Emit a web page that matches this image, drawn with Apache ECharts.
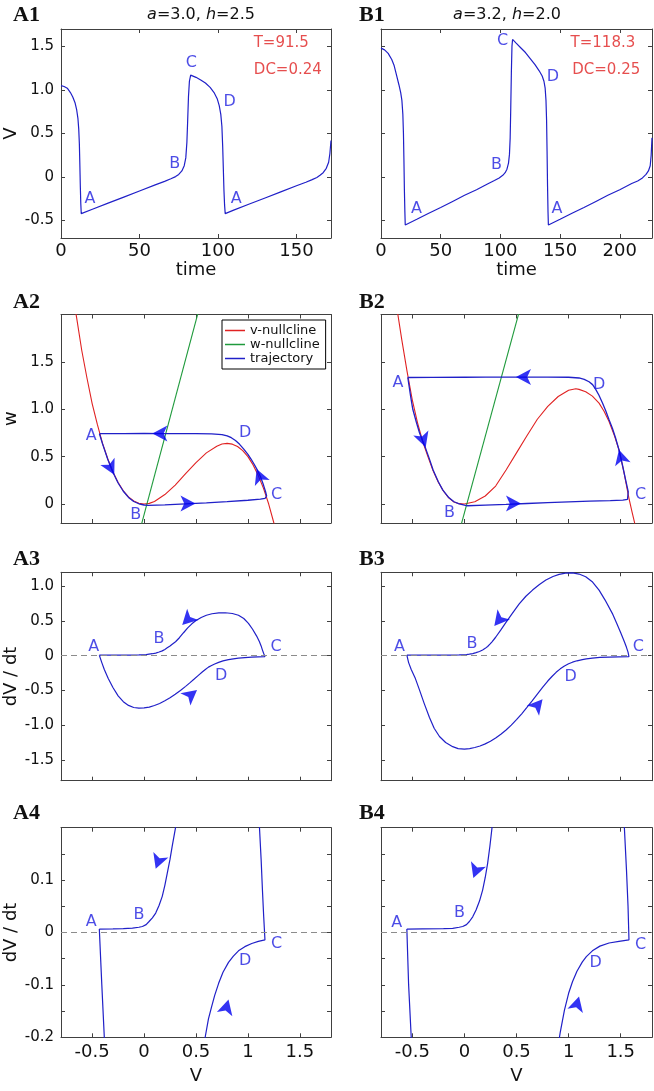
<!DOCTYPE html>
<html><head><meta charset="utf-8">
<script src="https://cdn.jsdelivr.net/npm/echarts@6/dist/echarts.min.js"></script>
<style>html,body{margin:0;padding:0;background:#fff}#c{width:654px;height:1091px}</style>
</head><body><div id="c"></div><script>
// ---------------- tick values ----------------
const timeTicksA = [0, 50, 100, 150];
const timeTicksB = [0, 50, 100, 150, 200];
const vTicks = [-0.5, 0, 0.5, 1, 1.5];
const wTicks = [0, 0.5, 1, 1.5];
const dvTicks3 = [-1.5, -1, -0.5, 0, 0.5, 1];
const dvTicks4 = [-0.15, -0.1, -0.05, 0, 0.05, 0.1, 0.15];
const dvLabels4 = [-0.2, -0.1, 0, 0.1];

// ---------------- A1 / B1 : V(t) ----------------
const a1Trace = [[0,1.05],[2,1.04],[4,1.02],[6,0.97],[7.5,0.92],[9,0.85],[10,0.77],[10.8,0.67],[11.3,0.55],[11.7,0.38],[12.0,0.15],[12.3,-0.1],[12.6,-0.3],[12.9,-0.42],
 [20,-0.37],[30,-0.30],[40,-0.23],[50,-0.16],[60,-0.09],[66,-0.05],[70,-0.02],[73,0.005],[75,0.03],[77,0.07],[78.5,0.13],[79.5,0.22],[80.2,0.40],[80.7,0.65],[81.2,0.92],[81.8,1.10],[82.6,1.17],
 [86,1.145],[89,1.115],[92,1.08],[95,1.03],[97.5,0.97],[99.5,0.90],[100.8,0.82],[101.8,0.72],[102.5,0.58],[103,0.35],[103.4,0.1],[103.8,-0.15],[104.2,-0.32],[104.6,-0.42],
 [110,-0.38],[120,-0.31],[130,-0.24],[140,-0.17],[150,-0.10],[156,-0.06],[160,-0.03],[163,-0.005],[165,0.02],[167,0.05],[169,0.10],[170.5,0.17],[171.3,0.27],[172,0.42]];
const b1Trace = [[0,1.48],[3,1.46],[6,1.42],[9,1.35],[11,1.28],[13,1.17],[15,1.06],[16.5,0.97],[17.5,0.88],[18.3,0.72],[18.8,0.5],[19.2,0.2],[19.6,-0.15],[20.0,-0.4],[20.3,-0.55],
 [30,-0.485],[40,-0.415],[50,-0.35],[60,-0.28],[70,-0.21],[80,-0.145],[90,-0.075],[95,-0.04],[99,-0.01],[102,0.02],[104,0.05],[105.5,0.09],[106.8,0.16],[107.6,0.26],[108.2,0.45],[108.7,0.8],[109.2,1.2],[109.7,1.5],[110.2,1.58],
 [113,1.54],[117,1.485],[121,1.43],[125,1.36],[129,1.29],[132.5,1.22],[135,1.16],[136.5,1.10],[137.5,1.02],[138.2,0.88],[138.7,0.65],[139.1,0.3],[139.5,-0.1],[139.9,-0.4],[140.2,-0.55],
 [150,-0.485],[160,-0.415],[170,-0.35],[180,-0.28],[190,-0.21],[200,-0.145],[210,-0.075],[215,-0.045],[219,-0.01],[222,0.03],[224,0.07],[225.5,0.13],[226.3,0.25],[227,0.45]];
const a1Labels = [[18.4,-0.245,'A'],[72.5,0.157,'B'],[83.1,1.307,'C'],[107.4,0.866,'D'],[111.7,-0.245,'A']];
const b1Labels = [[29.8,-0.36,'A'],[96.7,0.138,'B'],[101.8,1.567,'C'],[144.1,1.146,'D'],[147.4,-0.36,'A']];
const a1Notes = [[140.3,1.537,'T=91.5'],[144.5,1.23,'DC=0.24']];
const b1Notes = [[185.9,1.537,'T=118.3'],[188.7,1.23,'DC=0.25']];

// ---------------- A2 / B2 : phase plane ----------------
const a2VNull = [[-0.67,2.1],[-0.65,1.97],[-0.6,1.62],[-0.55,1.33],[-0.5,1.06],[-0.45,0.84],[-0.4,0.64],[-0.35,0.478],[-0.3,0.338],[-0.25,0.227],[-0.2,0.14],[-0.15,0.076],[-0.1,0.0325],[-0.05,0.008],[0,0],[0.05,0.007],[0.1,0.0275],[0.2,0.1],[0.3,0.2],[0.4,0.32],[0.5,0.4375],[0.6,0.54],[0.7,0.61],[0.75,0.633],[0.8,0.64],[0.85,0.632],[0.9,0.607],[0.95,0.564],[1.0,0.5],[1.05,0.413],[1.1,0.3],[1.15,0.165],[1.2,0.0],[1.25,-0.2],[1.27,-0.3]];
const a2WNull = [[-0.03,-0.235],[0.53,2.06]];
const a2Traj = [[-0.43,0.742],[-0.4,0.635],[-0.35,0.472],[-0.3,0.335],[-0.25,0.222],[-0.2,0.135],[-0.15,0.07],[-0.1,0.027],[-0.05,0.003],[0.0,-0.01],[0.04,-0.014],[0.2,-0.008],[0.4,0.002],[0.6,0.013],[0.8,0.025],[1.0,0.04],[1.12,0.052],[1.165,0.06],[1.18,0.085],
 [1.17,0.13],[1.15,0.2],[1.12,0.29],[1.09,0.36],[1.06,0.42],[1.03,0.475],[1.0,0.525],[0.96,0.58],[0.92,0.63],[0.88,0.67],[0.84,0.7],[0.8,0.72],[0.75,0.733],[0.65,0.741],[0.5,0.743],[0.2,0.744],[0.0,0.745],[-0.2,0.744],[-0.43,0.742]];
const a2Arrows = [[-0.287,0.31,207],[0.495,0.007,270],[1.084,0.37,22],[0.08,0.745,90]];
const a2Labels = [[-0.51,0.722,'A'],[-0.08,-0.117,'B'],[1.276,0.096,'C'],[0.973,0.75,'D']];

const b2VNull = [[-0.66,2.17],[-0.641,2.02],[-0.6,1.73],[-0.55,1.40],[-0.5,1.10],[-0.45,0.86],[-0.4,0.66],[-0.35,0.50],[-0.3,0.35],[-0.25,0.23],[-0.2,0.135],[-0.15,0.065],[-0.1,0.022],[-0.05,0.004],[0,0],[0.1,0.025],[0.2,0.085],[0.3,0.19],[0.4,0.36],[0.5,0.54],[0.6,0.72],[0.7,0.895],[0.8,1.03],[0.9,1.135],[1.0,1.2],[1.069,1.217],[1.1,1.21],[1.164,1.185],[1.228,1.139],[1.292,1.065],[1.34,0.98],[1.388,0.87],[1.44,0.72],[1.483,0.573],[1.53,0.34],[1.579,0.06],[1.61,-0.09],[1.64,-0.23]];
const b2WNull = [[-0.03,-0.215],[0.53,2.045]];
const b2Traj = [[-0.543,1.335],[-0.53,1.24],[-0.515,1.13],[-0.495,1.0],[-0.46,0.86],[-0.43,0.75],[-0.4,0.665],[-0.371,0.585],[-0.34,0.49],[-0.3,0.36],[-0.25,0.235],[-0.208,0.15],[-0.15,0.068],[-0.1,0.024],[-0.05,0.002],[0.0,-0.012],[0.03,-0.018],[0.2,-0.011],[0.4,-0.003],[0.6,0.006],[0.8,0.014],[1.0,0.022],[1.2,0.03],[1.4,0.037],[1.52,0.042],[1.565,0.05],[1.579,0.07],
 [1.572,0.13],[1.547,0.255],[1.515,0.42],[1.483,0.573],[1.45,0.7],[1.42,0.8],[1.388,0.89],[1.356,0.985],[1.324,1.069],[1.29,1.15],[1.26,1.21],[1.23,1.26],[1.196,1.29],[1.15,1.315],[1.1,1.33],[1.0,1.338],[0.8,1.34],[0.5,1.34],[0.2,1.339],[0.0,1.338],[-0.3,1.336],[-0.543,1.335]];
const b2Arrows = [[-0.371,0.6,199],[0.543,0.007,270],[1.483,0.573,15],[0.495,1.34,90]];
const b2Labels = [[-0.638,1.281,'A'],[-0.144,-0.088,'B'],[1.691,0.096,'C'],[1.292,1.253,'D']];

// ---------------- A3/A4, B3/B4 : dV/dt vs V ----------------
const a3Cycle = [[-0.431,0.0065],[-0.3,0.007],[-0.2,0.0075],[-0.112,0.0085],[-0.05,0.01],[-0.016,0.0115],[0.02,0.015],[0.048,0.021],[0.08,0.028],[0.112,0.037],[0.145,0.052],[0.175,0.069],[0.2,0.09],[0.223,0.113],[0.25,0.14],[0.271,0.165],[0.303,0.2],[0.34,0.258],[0.38,0.33],[0.42,0.4],[0.46,0.458],[0.5,0.505],[0.55,0.55],[0.6,0.582],[0.654,0.603],[0.72,0.616],[0.782,0.618],[0.85,0.607],[0.909,0.582],[0.96,0.535],[1.005,0.465],[1.045,0.38],[1.084,0.282],[1.11,0.205],[1.127,0.14],[1.14,0.08],[1.152,0.03],[1.164,-0.014],
 [1.1,-0.017],[1.037,-0.021],[0.97,-0.027],[0.909,-0.035],[0.86,-0.045],[0.813,-0.057],[0.76,-0.076],[0.718,-0.097],[0.68,-0.12],[0.65,-0.142],[0.62,-0.165],[0.59,-0.198],[0.56,-0.235],[0.52,-0.287],[0.48,-0.34],[0.44,-0.392],[0.4,-0.442],[0.35,-0.502],[0.3,-0.557],[0.25,-0.607],[0.2,-0.65],[0.15,-0.688],[0.1,-0.718],[0.05,-0.74],[0.0,-0.752],[-0.05,-0.756],[-0.1,-0.746],[-0.15,-0.716],[-0.2,-0.662],[-0.25,-0.578],[-0.3,-0.458],[-0.345,-0.33],[-0.383,-0.2],[-0.407,-0.1],[-0.431,0.0065]];
const b3Cycle = [[-0.552,0.0065],[-0.4,0.007],[-0.2,0.0075],[-0.112,0.008],[-0.05,0.01],[-0.016,0.0115],[0.02,0.015],[0.048,0.021],[0.08,0.03],[0.112,0.043],[0.145,0.06],[0.175,0.081],[0.2,0.105],[0.223,0.132],[0.245,0.165],[0.265,0.2],[0.3,0.265],[0.35,0.37],[0.399,0.48],[0.46,0.61],[0.526,0.745],[0.59,0.855],[0.654,0.944],[0.72,1.025],[0.782,1.088],[0.85,1.14],[0.909,1.17],[0.97,1.188],[1.037,1.193],[1.1,1.175],[1.164,1.135],[1.23,1.06],[1.292,0.944],[1.35,0.8],[1.419,0.609],[1.46,0.47],[1.5,0.33],[1.535,0.2],[1.555,0.12],[1.57,0.05],[1.579,-0.014],
 [1.483,-0.017],[1.388,-0.02],[1.3,-0.026],[1.228,-0.035],[1.17,-0.046],[1.132,-0.056],[1.08,-0.074],[1.037,-0.094],[1.0,-0.116],[0.96,-0.148],[0.92,-0.19],[0.88,-0.24],[0.84,-0.3],[0.8,-0.365],[0.75,-0.458],[0.7,-0.553],[0.65,-0.65],[0.6,-0.745],[0.55,-0.837],[0.5,-0.922],[0.45,-1.0],[0.4,-1.07],[0.35,-1.13],[0.3,-1.185],[0.25,-1.233],[0.2,-1.27],[0.15,-1.3],[0.1,-1.322],[0.05,-1.337],[0.0,-1.345],[-0.06,-1.338],[-0.112,-1.31],[-0.18,-1.25],[-0.239,-1.164],[-0.29,-1.045],[-0.335,-0.89],[-0.385,-0.69],[-0.431,-0.493],[-0.47,-0.33],[-0.51,-0.2],[-0.535,-0.1],[-0.552,0.0065]];
const a3Arrows = [[0.367,0.441,135],[0.51,-0.493,-51]];
const b3Arrows = [[0.287,0.427,141],[0.75,-0.627,-40]];
const a4Arrows = [[0.112,0.1216,160],[0.813,-0.128,-15]];
const b4Arrows = [[0.086,0.104,160],[1.1,-0.122,-15]];
const a3Labels = [[-0.485,0.12,'A'],[0.144,0.235,'B'],[1.27,0.12,'C'],[0.743,-0.29,'D']];
const b3Labels = [[-0.622,0.12,'A'],[0.074,0.164,'B'],[1.668,0.13,'C'],[1.02,-0.31,'D']];
const a4Labels = [[-0.51,0.021,'A'],[-0.048,0.034,'B'],[1.276,-0.0216,'C'],[0.973,-0.055,'D']];
const b4Labels = [[-0.648,0.018,'A'],[-0.048,0.038,'B'],[1.691,-0.0235,'C'],[1.26,-0.057,'D']];

// ---------------- styling / layout ----------------
const FONT = '"DejaVu Sans", sans-serif';
const AX = '#404040', TXT = '#111';
const BLUE = '#2020c8', LBL = '#1f1fe0', RED = '#e02222', GREEN = '#1f9a3c', ARROW = '#0000f0';
const fmtX = v => String(v);
const fmtY = v => v === 0 ? '0' : v.toFixed(1);

const panels = [
 {g:[61,29,270,209], xr:[0,172], yr:[-0.7,1.7], xt:timeTicksA, xl:timeTicksA, yt:vTicks, yl:vTicks, xn:'time', yn:'V', xm:4, xg:15},
 {g:[381,29,271,209], xr:[0,227], yr:[-0.7,1.7], xt:timeTicksB, xl:timeTicksB, yt:vTicks, yl:null, xn:'time', xm:4, xg:15},
 {g:[61,314.5,270,208.5], xr:[-0.8,1.8], yr:[-0.2,2.0], xt:vTicks, xl:null, yt:wTicks, yl:wTicks, yn:'w'},
 {g:[381,314.5,271,208.5], xr:[-0.8,1.8], yr:[-0.2,2.0], xt:vTicks, xl:null, yt:wTicks, yl:null},
 {g:[61,572.3,270,208.4], xr:[-0.8,1.8], yr:[-1.8,1.2], xt:vTicks, xl:null, yt:dvTicks3, yl:dvTicks3, yn:'dV / dt'},
 {g:[381,572.3,271,208.4], xr:[-0.8,1.8], yr:[-1.8,1.2], xt:vTicks, xl:null, yt:dvTicks3, yl:null},
 {g:[61,827.7,270,209.6], xr:[-0.8,1.8], yr:[-0.2,0.2], xt:vTicks, xl:vTicks, yt:dvTicks4, yl:dvLabels4, xn:'V', yn:'dV / dt', xm:6, xg:30},
 {g:[381,827.7,271,209.6], xr:[-0.8,1.8], yr:[-0.2,0.2], xt:vTicks, xl:vTicks, yt:dvTicks4, yl:null, xn:'V', xm:6, xg:30}
];

const grid = [], xAxis = [], yAxis = [];
panels.forEach((p, i) => {
  grid.push({left:p.g[0], top:p.g[1], width:p.g[2], height:p.g[3], containLabel:false});
  const base = (min, max, ticks) => ({
    type:'value', gridIndex:i, min:min, max:max, splitLine:{show:false},
    axisLine:{show:true, onZero:false, lineStyle:{color:AX, width:1}},
    axisTick:{show:true, inside:true, length:4, customValues:ticks, lineStyle:{color:AX, width:1}}
  });
  xAxis.push(Object.assign(base(p.xr[0], p.xr[1], p.xt), {
    position:'bottom',
    axisLabel:{show:!!p.xl, customValues:p.xl || [], formatter:fmtX, fontSize:18, fontFamily:FONT, color:TXT, margin:p.xm || 4},
    name:p.xn || '', nameLocation:'middle', nameGap:p.xg || 15,
    nameTextStyle:{fontSize:18, fontFamily:FONT, color:TXT}
  }));
  xAxis.push(Object.assign(base(p.xr[0], p.xr[1], p.xt), {position:'top', axisLabel:{show:false}}));
  yAxis.push(Object.assign(base(p.yr[0], p.yr[1], p.yt), {
    position:'left',
    axisLabel:{show:!!p.yl, customValues:p.yl || [], formatter:fmtY, fontSize:15, fontFamily:FONT, color:TXT, margin:7},
    name:p.yn || '', nameLocation:'middle', nameGap:41, nameRotate:90,
    nameTextStyle:{fontSize:18, fontFamily:FONT, color:TXT}
  }));
  yAxis.push(Object.assign(base(p.yr[0], p.yr[1], p.yt), {position:'right', axisLabel:{show:false}}));
});

function line(i, data, color, width, name, extra) {
  return Object.assign({type:'line', name:name, xAxisIndex:2*i, yAxisIndex:2*i, data:data,
    symbol:'none', showSymbol:false, clip:true, silent:true, color:color,
    lineStyle:{color:color, width:width}, itemStyle:{color:color}, z:3}, extra || {});
}
function labels(i, arr, color, size) {
  return {type:'scatter', xAxisIndex:2*i, yAxisIndex:2*i,
    data:arr.map(d => ({value:[d[0], d[1]], name:d[2]})), symbolSize:1,
    itemStyle:{color:'rgba(0,0,0,0)'}, silent:true, z:5,
    label:{show:true, position:'inside', formatter:'{b}', color:color, fontSize:size, fontFamily:FONT}};
}
function arrows(i, arr) {
  return {type:'scatter', xAxisIndex:2*i, yAxisIndex:2*i, symbol:'arrow', symbolSize:[12,15],
    data:arr.map(d => ({value:[d[0], d[1]], symbolRotate:d[2]})),
    itemStyle:{color:ARROW}, silent:true, z:6};
}
const zeroLine = {markLine:{silent:true, symbol:['none','none'], label:{show:false},
  lineStyle:{color:'#8c8c8c', type:[6,4], width:1}, data:[{yAxis:0}]}};

const series = [
  line(0, a1Trace, BLUE, 1.2, 'A1'), labels(0, a1Labels, LBL, 16), labels(0, a1Notes, RED, 15),
  line(1, b1Trace, BLUE, 1.2, 'B1'), labels(1, b1Labels, LBL, 16), labels(1, b1Notes, RED, 15),
  line(2, a2VNull, RED, 1.1, 'v-nullcline'), line(2, a2WNull, GREEN, 1.1, 'w-nullcline'), line(2, a2Traj, BLUE, 1.3, 'trajectory'),
  arrows(2, a2Arrows), labels(2, a2Labels, LBL, 16),
  line(3, b2VNull, RED, 1.1, 'v-nullcline'), line(3, b2WNull, GREEN, 1.1, 'w-nullcline'), line(3, b2Traj, BLUE, 1.3, 'trajectory'),
  arrows(3, b2Arrows), labels(3, b2Labels, LBL, 16),
  line(4, a3Cycle, BLUE, 1.2, 'A3', zeroLine), arrows(4, a3Arrows), labels(4, a3Labels, LBL, 16),
  line(5, b3Cycle, BLUE, 1.2, 'B3', zeroLine), arrows(5, b3Arrows), labels(5, b3Labels, LBL, 16),
  line(6, a3Cycle, BLUE, 1.2, 'A4', zeroLine), arrows(6, a4Arrows), labels(6, a4Labels, LBL, 16),
  line(7, b3Cycle, BLUE, 1.2, 'B4', zeroLine), arrows(7, b4Arrows), labels(7, b4Labels, LBL, 16)
];

const panelText = (t, x, y) => ({type:'text', x:x, y:y, silent:true,
  style:{text:t, fontFamily:'"Liberation Serif", serif', fontWeight:'bold', fontSize:22, fill:'#111', align:'left', verticalAlign:'middle'}});
const titleText = (t, x) => ({type:'text', x:x, y:15, silent:true,
  style:{text:t, fontFamily:FONT, fontSize:16, fill:TXT, align:'center', verticalAlign:'middle',
    rich:{i:{fontStyle:'italic', fontFamily:FONT, fontSize:16, fill:TXT, color:TXT}}}});

const chart = echarts.init(document.getElementById('c'), null, {renderer:'canvas'});
chart.setOption({
  animation:false, backgroundColor:'#fff', textStyle:{fontFamily:FONT},
  grid:grid, xAxis:xAxis, yAxis:yAxis, series:series,
  legend:{data:['v-nullcline','w-nullcline','trajectory'], orient:'vertical', left:222, top:320,
    icon:'rect', itemWidth:20, itemHeight:1.5, itemGap:1, padding:[4,6,4,3], backgroundColor:'#fff',
    borderColor:'#000', borderWidth:1, borderRadius:0, selectedMode:false,
    textStyle:{fontSize:13, lineHeight:13, fontFamily:FONT, color:TXT}},
  graphic:[
    panelText('A1',13,15), panelText('B1',359,15), panelText('A2',13,302), panelText('B2',359,302),
    panelText('A3',13,559), panelText('B3',359,559), panelText('A4',13,813), panelText('B4',359,813),
    titleText('{i|a}=3.0, {i|h}=2.5', 201), titleText('{i|a}=3.2, {i|h}=2.0', 507)
  ]
});
</script></body></html>
